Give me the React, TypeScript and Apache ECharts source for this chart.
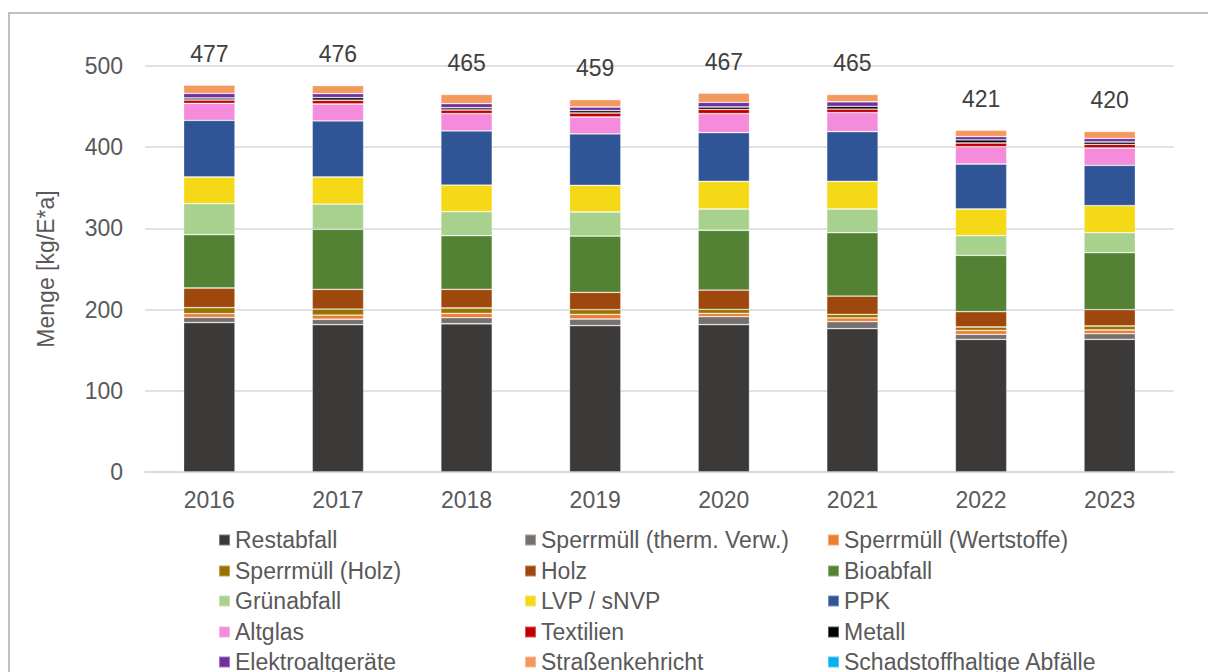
import React, { useEffect, useRef } from "react";
import * as echarts from "echarts";

const years = ["2016", "2017", "2018", "2019", "2020", "2021", "2022", "2023"];
const totals = [477, 476, 465, 459, 467, 465, 421, 420];
const yTicks = [0, 100, 200, 300, 400, 500];

const restabfall = [184.0, 181.4, 182.6, 180.2, 181.4, 176.5, 163.4, 163.4];
const sperrThermVerw = [6.5, 6.7, 7.4, 8.2, 9.9, 8.6, 6.2, 6.9];
const sperrWertstoffe = [4.5, 5.2, 5.4, 5.8, 4.1, 4.6, 4.9, 4.6];
const sperrHolz = [7.4, 7.4, 6.6, 5.7, 4.9, 4.5, 4.1, 4.9];
const holz = [24.2, 24.3, 23.0, 21.4, 23.8, 22.5, 18.8, 20.1];
const bioabfall = [65.7, 73.9, 66.0, 69.3, 73.6, 78.0, 69.5, 70.2];
const gruenabfall = [38.2, 31.1, 29.6, 29.6, 26.2, 29.2, 24.1, 24.6];
const lvp = [32.8, 33.3, 32.8, 32.9, 34.1, 34.1, 32.9, 33.3];
const ppk = [69.8, 69.0, 66.6, 63.2, 59.9, 61.1, 55.4, 49.7];
const altglas = [20.9, 20.9, 21.3, 20.9, 23.4, 23.4, 21.3, 21.3];
const textilien = [4.1, 4.6, 4.5, 4.9, 5.3, 4.5, 4.6, 4.6];
const metall = [2.5, 3.2, 2.8, 2.9, 2.9, 3.3, 3.7, 2.8];
const elektro = [5.7, 4.9, 5.0, 4.5, 5.8, 5.7, 4.1, 4.5];
const strassenkehricht = [10.3, 10.1, 11.4, 9.1, 11.4, 9.0, 8.0, 8.6];
const schadstoffe = [0.4, 0.3, 0.3, 0.8, 0.6, 0.3, 0.3, 0.7];

const seriesDefs = [
  { name: "Restabfall", data: restabfall, color: "#3b3a38" },
  { name: "Sperrmüll (therm. Verw.)", data: sperrThermVerw, color: "#767171" },
  { name: "Sperrmüll (Wertstoffe)", data: sperrWertstoffe, color: "#ed7d31" },
  { name: "Sperrmüll (Holz)", data: sperrHolz, color: "#997300" },
  { name: "Holz", data: holz, color: "#9e480e" },
  { name: "Bioabfall", data: bioabfall, color: "#548235" },
  { name: "Grünabfall", data: gruenabfall, color: "#a9d18e" },
  { name: "LVP / sNVP", data: lvp, color: "#f5d816" },
  { name: "PPK", data: ppk, color: "#2f5597" },
  { name: "Altglas", data: altglas, color: "#f58bdb" },
  { name: "Textilien", data: textilien, color: "#c00000" },
  { name: "Metall", data: metall, color: "#000000" },
  { name: "Elektroaltgeräte", data: elektro, color: "#7030a0" },
  { name: "Straßenkehricht", data: strassenkehricht, color: "#f4995d" },
  { name: "Schadstoffhaltige Abfälle", data: schadstoffe, color: "#00b0f0" },
];

const legendCols = [
  ["Restabfall", "Sperrmüll (Holz)", "Grünabfall", "Altglas", "Elektroaltgeräte"],
  ["Sperrmüll (therm. Verw.)", "Holz", "LVP / sNVP", "Textilien", "Straßenkehricht"],
  ["Sperrmüll (Wertstoffe)", "Bioabfall", "PPK", "Metall", "Schadstoffhaltige Abfälle"],
];
const legendLefts = [218, 524, 827];
const legendRowCenters = [540, 571, 601, 632, 662];

const FONT = "Liberation Sans, Arial, sans-serif";

export default function App() {
  const ref = useRef<HTMLDivElement>(null);
  useEffect(() => {
    if (!ref.current) return;
    const chart = echarts.init(ref.current, null, { renderer: "svg" });
    const last = seriesDefs.length - 1;
    const legends: any[] = [];
    legendCols.forEach((col, ci) => {
      col.forEach((name, ri) => {
        legends.push({
          data: [name],
          orient: "horizontal",
          left: legendLefts[ci],
          top: legendRowCenters[ri] - 11.5,
          padding: 0,
          itemWidth: 11,
          itemHeight: 11,
          icon: "rect",
          selectedMode: false,
          textStyle: { fontSize: 23, color: "#595959", fontFamily: FONT, lineHeight: 23 },
        });
      });
    });
    chart.setOption({
      animation: false,
      backgroundColor: "#ffffff",
      textStyle: { fontFamily: FONT },
      graphic: [
        {
          type: "rect",
          shape: { x: 9, y: 13, width: 1400, height: 900 },
          style: { fill: "none", stroke: "#bfbfbf", lineWidth: 2 },
          silent: true,
        },
      ],
      grid: { left: 145, right: 34, top: 66, bottom: 200, containLabel: false },
      legend: legends,
      xAxis: {
        type: "category",
        data: years,
        axisLine: { lineStyle: { color: "#d9d9d9", width: 1.5 } },
        axisTick: { show: false },
        axisLabel: { fontSize: 23, color: "#595959", margin: 16, fontFamily: FONT },
      },
      yAxis: {
        type: "value",
        min: yTicks[0],
        max: yTicks[yTicks.length - 1],
        interval: 100,
        name: "Menge [kg/E*a]",
        nameLocation: "middle",
        nameGap: 88,
        nameTextStyle: { fontSize: 23, color: "#595959", fontFamily: FONT },
        axisLine: { show: false },
        axisTick: { show: false },
        axisLabel: { fontSize: 23, color: "#595959", margin: 22, fontFamily: FONT },
        splitLine: { lineStyle: { color: "#d9d9d9", width: 1.5 } },
      },
      series: seriesDefs.map((s, idx) => ({
        name: s.name,
        type: "bar",
        stack: "total",
        data: s.data,
        barWidth: "40%",
        itemStyle: {
          color: s.color,
          borderColor: "rgba(255,255,255,0.35)",
          borderWidth: 0.8,
        },
        label:
          idx === last
            ? {
                show: true,
                position: "top",
                distance: 19,
                fontSize: 23,
                color: "#404040",
                fontFamily: FONT,
                formatter: (p: any) => String(totals[p.dataIndex]),
              }
            : { show: false },
      })),
    });
    return () => chart.dispose();
  }, []);
  return (
    <div
      ref={ref}
      style={{ position: "fixed", left: 0, top: 0, width: 1208, height: 672 }}
    />
  );
}
